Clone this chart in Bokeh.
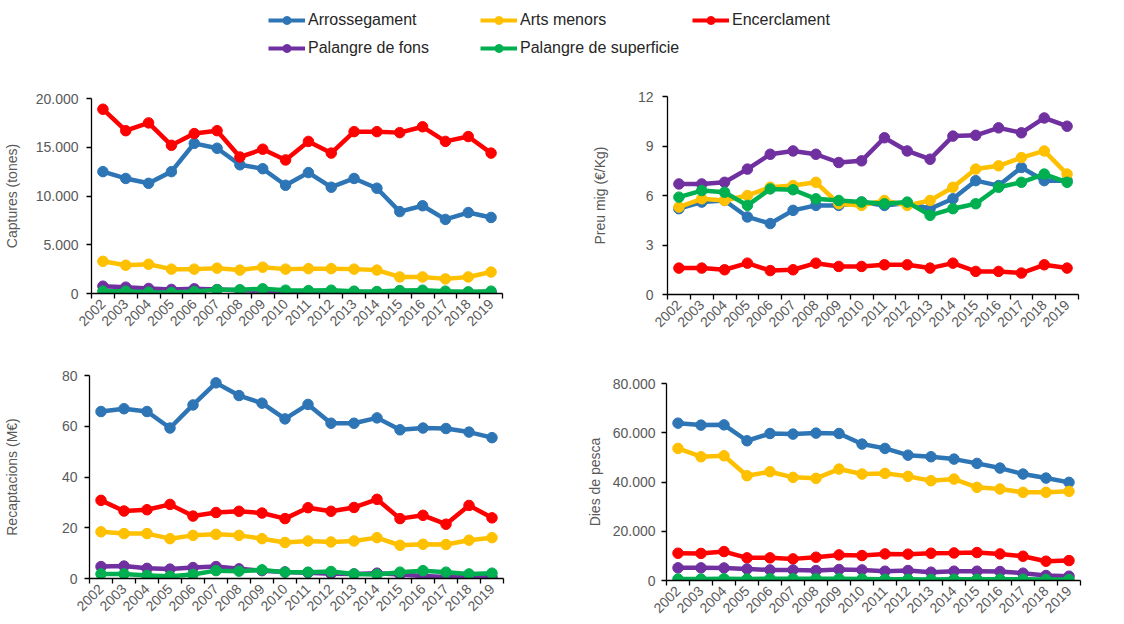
import math
from bokeh.plotting import figure
from bokeh.models import FixedTicker, Range1d, Legend, LegendItem, Spacer
from bokeh.layouts import column, row
from bokeh.embed import file_html
from bokeh.resources import INLINE

years = [str(y) for y in range(2002, 2020)]
series_names = ["Arrossegament", "Arts menors", "Encerclament",
                "Palangre de fons", "Palangre de superficie"]
colors = ["#2E75B6", "#FFC000", "#FF0000", "#7030A0", "#00B050"]

# Captures (tones)
cap_arrossegament = [12500, 11800, 11300, 12500, 15400, 14900, 13200, 12800, 11100,
                     12400, 10900, 11800, 10800, 8400, 9000, 7600, 8300, 7800]
cap_arts_menors = [3300, 2900, 3000, 2500, 2500, 2600, 2400, 2700, 2500,
                   2550, 2550, 2500, 2400, 1700, 1700, 1500, 1700, 2200]
cap_encerclament = [18900, 16700, 17500, 15200, 16400, 16700, 14000, 14800, 13700,
                    15600, 14400, 16600, 16600, 16500, 17100, 15600, 16100, 14400]
cap_palangre_fons = [750, 650, 520, 420, 480, 400, 330, 280, 220,
                     180, 160, 150, 130, 120, 110, 100, 90, 80]
cap_palangre_sup = [240, 240, 140, 100, 200, 380, 380, 480, 340,
                    300, 340, 240, 200, 300, 340, 240, 170, 240]

# Preu mig (EUR/Kg)
preu_arrossegament = [5.2, 5.6, 5.7, 4.7, 4.3, 5.1, 5.4, 5.4, 5.6,
                      5.4, 5.55, 5.2, 5.8, 6.9, 6.6, 7.7, 6.9, 6.9]
preu_arts_menors = [5.3, 5.8, 5.7, 6.0, 6.5, 6.6, 6.8, 5.5, 5.4,
                    5.7, 5.4, 5.7, 6.5, 7.6, 7.8, 8.3, 8.7, 7.3]
preu_encerclament = [1.6, 1.6, 1.5, 1.9, 1.45, 1.5, 1.9, 1.7, 1.7,
                     1.8, 1.8, 1.6, 1.9, 1.4, 1.4, 1.3, 1.8, 1.6]
preu_palangre_fons = [6.7, 6.7, 6.8, 7.6, 8.5, 8.7, 8.5, 8.0, 8.1,
                      9.5, 8.7, 8.2, 9.6, 9.65, 10.1, 9.8, 10.7, 10.2]
preu_palangre_sup = [5.9, 6.3, 6.2, 5.4, 6.4, 6.35, 5.8, 5.7, 5.6,
                     5.5, 5.6, 4.8, 5.2, 5.5, 6.5, 6.8, 7.3, 6.8]

# Recaptacions (M EUR)
rec_arrossegament = [65.8, 66.9, 65.8, 59.3, 68.4, 77.1, 72.1, 69.1, 62.9,
                     68.6, 61.2, 61.2, 63.3, 58.6, 59.3, 59.1, 57.7, 55.5]
rec_arts_menors = [18.4, 17.7, 17.7, 15.7, 17.0, 17.4, 17.0, 15.7, 14.2,
                   14.8, 14.4, 14.8, 16.1, 13.1, 13.5, 13.4, 15.1, 16.1]
rec_encerclament = [30.8, 26.6, 27.1, 29.2, 24.6, 26.0, 26.5, 25.8, 23.6,
                    27.9, 26.5, 28.0, 31.2, 23.6, 24.9, 21.4, 28.8, 23.9]
rec_palangre_fons = [4.7, 4.9, 4.0, 3.7, 4.3, 4.7, 3.8, 3.1, 2.6,
                     2.3, 1.9, 1.8, 2.1, 1.6, 1.0, 0.6, 0.5, 0.5]
rec_palangre_sup = [1.8, 1.8, 1.2, 0.9, 1.6, 3.1, 2.9, 3.4, 2.5,
                    2.5, 2.75, 1.8, 1.6, 2.5, 3.1, 2.5, 1.8, 2.1]

# Dies de pesca
dies_arrossegament = [63900, 63100, 63200, 56750, 59700, 59450, 59850, 59700, 55400,
                      53640, 50900, 50260, 49300, 47550, 45660, 43230, 41600, 39860]
dies_arts_menors = [53640, 50260, 50660, 42560, 44180, 41880, 41480, 45260, 43230,
                    43500, 42300, 40530, 41200, 37830, 37150, 35800, 35800, 36200]
dies_encerclament = [11080, 11000, 11750, 9190, 9200, 8780, 9460, 10400, 10130,
                     10800, 10700, 11080, 11200, 11350, 10800, 9860, 7840, 8100]
dies_palangre_fons = [5130, 5130, 5100, 4700, 4300, 4300, 4050, 4460, 4300,
                      3780, 4050, 3380, 3780, 3780, 3650, 2970, 2030, 1760]
dies_palangre_sup = [600, 600, 700, 600, 700, 700, 700, 700, 600,
                     500, 500, 400, 500, 500, 500, 500, 400, 400]

cap_ticks = [0, 5000, 10000, 15000, 20000]
preu_ticks = [0, 3, 6, 9, 12]
rec_ticks = [0, 20, 40, 60, 80]
dies_ticks = [0, 20000, 40000, 60000, 80000]

FONT = "Liberation Sans"
GRAY = "#595959"


def thousands(v):
    return f"{v:,}".replace(",", ".")


def make_panel(series, ticks, ylabel, width, height, left, right, top, bottom,
               label_standoff, title_standoff):
    xs = [i + 0.5 for i in range(len(years))]
    p = figure(width=width, height=height, output_backend="svg", toolbar_location=None,
               x_range=Range1d(0, len(years)), y_range=Range1d(ticks[0], ticks[-1]),
               min_border_left=left, min_border_right=right,
               min_border_top=top, min_border_bottom=bottom)
    p.outline_line_color = None
    p.grid.visible = False
    p.background_fill_color = "white"
    for vals, c in zip(series, colors):
        p.line(xs, vals, line_color=c, line_width=4.5)
        p.scatter(xs, vals, size=10.5, fill_color=c, line_color=c)
    xa = p.xaxis[0]
    xa.ticker = FixedTicker(ticks=xs, minor_ticks=list(range(len(years) + 1)))
    xa.major_label_overrides = {x: y for x, y in zip(xs, years)}
    xa.major_tick_out = 0
    xa.major_tick_in = 0
    xa.minor_tick_out = 5
    xa.minor_tick_in = 0
    xa.major_label_orientation = math.pi / 4
    xa.major_label_standoff = 3
    ya = p.yaxis[0]
    ya.ticker = FixedTicker(ticks=ticks)
    ya.major_label_overrides = {t: thousands(t) for t in ticks}
    ya.major_tick_out = 5
    ya.major_tick_in = 0
    ya.minor_tick_out = 0
    ya.minor_tick_in = 0
    ya.major_label_standoff = label_standoff
    ya.axis_label = ylabel
    ya.axis_label_standoff = title_standoff
    ya.axis_label_text_font = FONT
    ya.axis_label_text_font_size = "14px"
    ya.axis_label_text_font_style = "normal"
    ya.axis_label_text_color = GRAY
    for ax in (xa, ya):
        ax.axis_line_color = "black"
        ax.axis_line_width = 1.3
        ax.major_tick_line_color = "black"
        ax.minor_tick_line_color = "black"
        ax.major_tick_line_width = 1.3
        ax.minor_tick_line_width = 1.3
        ax.major_label_text_font = FONT
        ax.major_label_text_font_size = "14px"
        ax.major_label_text_color = GRAY
    return p


p1 = make_panel([cap_arrossegament, cap_arts_menors, cap_encerclament,
                 cap_palangre_fons, cap_palangre_sup],
                cap_ticks, "Captures (tones)", 560, 287, 88, 58, 30, 62, 8, 13)
p2 = make_panel([preu_arrossegament, preu_arts_menors, preu_encerclament,
                 preu_palangre_fons, preu_palangre_sup],
                preu_ticks, "Preu mig (€/Kg)", 564, 289, 107, 46, 30, 61, 9, 27)
p3 = make_panel([rec_arrossegament, rec_arts_menors, rec_encerclament,
                 rec_palangre_fons, rec_palangre_sup],
                rec_ticks, "Recaptacions (M€)", 560, 267, 87, 57, 20, 44, 7, 39)
p4 = make_panel([dies_arrossegament, dies_arts_menors, dies_encerclament,
                 dies_palangre_fons, dies_palangre_sup],
                dies_ticks, "Dies de pesca", 564, 261, 106, 44, 20, 44, 6, 7)

# Legend figure: renderers use the first panel's data but sit outside its view
leg = figure(width=1124, height=66, output_backend="svg", toolbar_location=None,
             x_range=Range1d(-200, -100), y_range=Range1d(-200, -100),
             min_border=0)
leg.outline_line_color = None
leg.axis.visible = False
leg.grid.visible = False
items = []
xs = [i + 0.5 for i in range(len(years))]
for name, vals, c in zip(series_names,
                         [cap_arrossegament, cap_arts_menors, cap_encerclament,
                          cap_palangre_fons, cap_palangre_sup], colors):
    lr = leg.line(xs, vals, line_color=c, line_width=4)
    sr = leg.scatter(xs, vals, size=10, fill_color=c, line_color=c)
    items.append(LegendItem(label=name, renderers=[lr, sr]))
legend = Legend(items=items, location=(268, 8), orientation="horizontal", ncols=3,
                glyph_width=37, glyph_height=20, label_width=164, label_height=20,
                spacing=8, padding=0, margin=0, label_standoff=3,
                border_line_color=None, background_fill_alpha=0,
                label_text_font=FONT, label_text_font_size="16px",
                label_text_color="#262626")
leg.add_layout(legend)

layout = column(leg,
                row(column(Spacer(height=2), p1), p2),
                row(p3, column(Spacer(height=8), p4)))
open("out.html", "w").write(file_html(layout, INLINE))
